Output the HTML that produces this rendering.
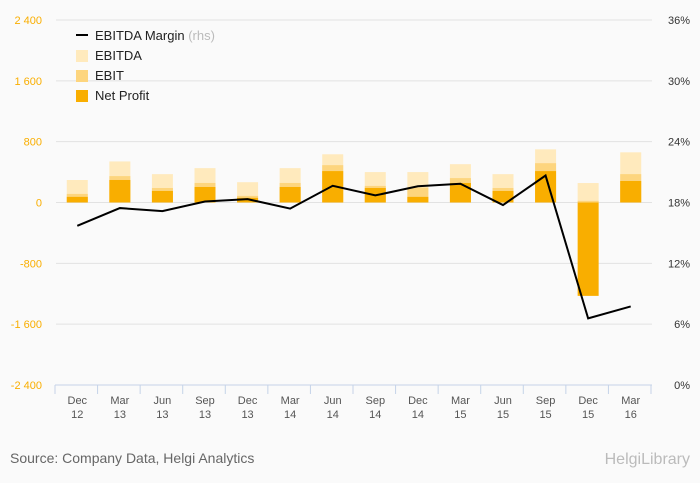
<!DOCTYPE html>
<html><head><meta charset="utf-8"><style>
body{margin:0;background:#fafafa;font-family:"Liberation Sans",sans-serif}
</style></head><body>
<svg id="c" width="700" height="483" xmlns="http://www.w3.org/2000/svg" style="display:block">
<rect width="700" height="483" fill="#fafafa"/>
<g id="grid"></g><g id="bars"></g><g id="line"></g><g id="axes"></g>
<g font-size="13" fill="#222">
<line x1="76" y1="35" x2="88" y2="35" stroke="#000" stroke-width="2"/>
<text x="95" y="40">EBITDA Margin <tspan fill="#bbb">(rhs)</tspan></text>
<rect x="76" y="50" width="12" height="12" fill="#ffeabd"/><text x="95" y="60">EBITDA</text>
<rect x="76" y="70" width="12" height="12" fill="#fdd57e"/><text x="95" y="80">EBIT</text>
<rect x="76" y="90" width="12" height="12" fill="#f9ae00"/><text x="95" y="100">Net Profit</text>
</g>
<text x="10" y="463" font-size="14" fill="#666">Source: Company Data, Helgi Analytics</text>
<text x="690" y="464" font-size="16" fill="#bbb" text-anchor="end">HelgiLibrary</text>
</svg>
<script>
const categories=["Dec|12","Mar|13","Jun|13","Sep|13","Dec|13","Mar|14","Jun|14","Sep|14","Dec|14","Mar|15","Jun|15","Sep|15","Dec|15","Mar|16"];
const ebitda=[296,540,373,452,267,452,634,400,400,504,373,699,256,660];
const ebit=[113,347,191,257,87,257,491,218,196,321,191,517,22,373];
const netProfit=[74,296,152,204,61,204,413,191,74,256,152,413,-1228,283];
const margin=[15.7,17.45,17.15,18.1,18.33,17.4,19.65,18.7,19.6,19.85,17.75,20.66,6.57,7.75];
const leftTicks=[2400,1600,800,0,-800,-1600,-2400];
const rightTicks=[36,30,24,18,12,6,0];
const NS="http://www.w3.org/2000/svg";
const X0=56,X1=652,Ytop=20,Ybot=385;
const bw=(X1-X0)/categories.length;
const xc=i=>X0+bw*(i+0.5);
const yl=v=>Ytop+(2400-v)/4800*(Ybot-Ytop);
const yr=v=>Ytop+(36-v)/36*(Ybot-Ytop);
function mk(t,a,p){const e=document.createElementNS(NS,t);for(const k in a)e.setAttribute(k,a[k]);p.appendChild(e);return e;}
const grid=document.getElementById('grid'),bars=document.getElementById('bars'),axes=document.getElementById('axes'),lineG=document.getElementById('line');
leftTicks.forEach((v,i)=>{
 if(v!==-2400){const g=mk('line',{x1:X0,x2:X1,y1:yl(v),y2:yl(v),stroke:'#e2e2e2'},grid);
 
 }
 const t=mk('text',{x:42,y:yl(v)+4,'text-anchor':'end','font-size':11,fill:'#f9ae00'},axes);
 t.textContent=String(v).replace(/(\d)(\d{3})$/,'$1 $2');
 
 
});
rightTicks.forEach(v=>{
 const t=mk('text',{x:690,y:yr(v)+4,'text-anchor':'end','font-size':11,fill:'#333'},axes);
 t.textContent=v+'%';
 
 
});
const ax=mk('line',{x1:X0-1,x2:X1,y1:Ybot,y2:Ybot,stroke:'#c5d3e8'},axes);


for(let i=0;i<=categories.length;i++){
 const tk=mk('line',{x1:X0-1+bw*i,x2:X0-1+bw*i,y1:Ybot,y2:Ybot+9,stroke:'#c5d3e8'},axes);
 
 
}
const BW=21;
categories.forEach((c,i)=>{
 const [a,b]=c.split('|');
 const t=mk('text',{x:xc(i),y:404,'text-anchor':'middle','font-size':11,fill:'#555'},axes);
 mk('tspan',{x:xc(i)},t).textContent=a;
 mk('tspan',{x:xc(i),dy:14},t).textContent=b;
 
 
 [[ebitda,'#ffeabd','bar-ebitda'],[ebit,'#fdd57e','bar-ebit'],[netProfit,'#f9ae00','bar-net-profit']].forEach(([arr,col,nm])=>{
  const v=arr[i],y0=yl(0),y=yl(v);
  const r=mk('rect',{x:xc(i)-BW/2,y:Math.min(y,y0),width:BW,height:Math.abs(y-y0),fill:col},bars);
  
  
 });
});
const p=mk('polyline',{points:margin.map((m,i)=>xc(i)+','+yr(m)).join(' '),fill:'none',stroke:'#000','stroke-width':2},lineG);


</script>
</body></html>
